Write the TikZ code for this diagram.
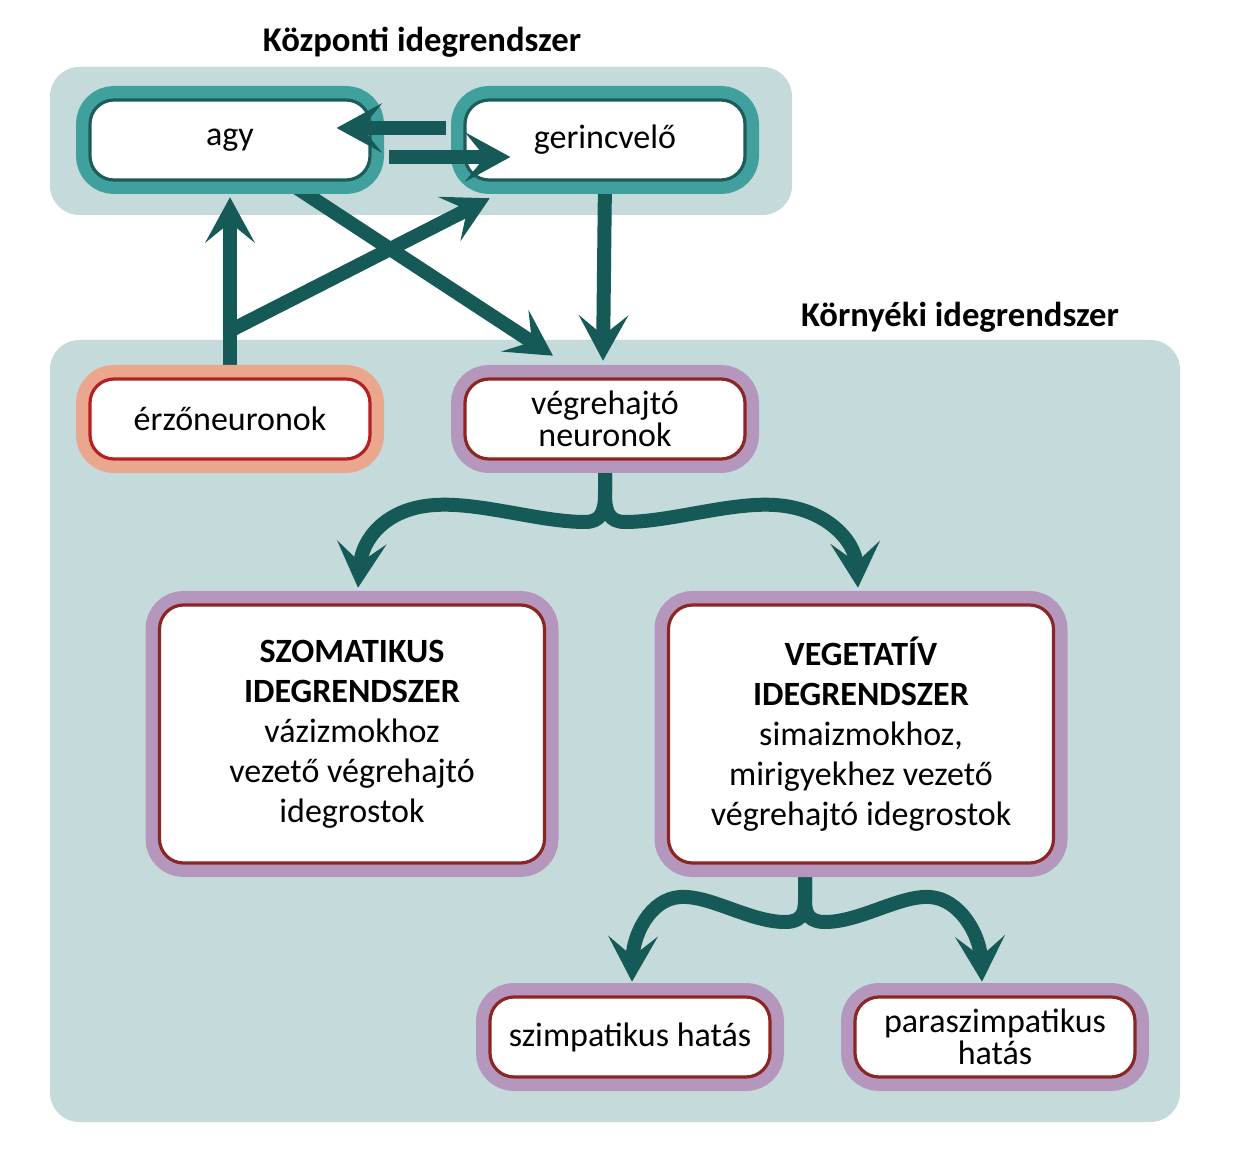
\documentclass[tikz,border=0pt]{standalone}
\usepackage{fontspec}
\setmainfont{Carlito}
\usetikzlibrary{arrows.meta,calc}
\definecolor{panel}{HTML}{C5DBDB}
\definecolor{tealframe}{HTML}{40A09D}
\definecolor{tealborder}{HTML}{1E5C5B}
\definecolor{arrowc}{HTML}{155A57}
\definecolor{salmon}{HTML}{EBA68E}
\definecolor{redborder}{HTML}{B42024}
\definecolor{purpleframe}{HTML}{B597BD}
\definecolor{darkred}{HTML}{8C2622}
\begin{document}
\begin{tikzpicture}[x=0.75pt,y=-0.75pt,
  box/.style 2 args={fill=white, draw=#2, line width=2.4pt, rounded corners=18pt,
    preaction={draw=#1, line width=21pt, rounded corners=18pt},
    inner sep=0pt, align=center},
  smallbox/.style={minimum width=210pt, minimum height=60pt,
    font=\fontsize{25.5pt}{24pt}\selectfont},
  bigbox/.style={minimum width=288.75pt, minimum height=193.5pt,
    font=\fontsize{25.5pt}{30pt}\selectfont},
  title/.style={anchor=base, font=\fontsize{26pt}{30pt}\selectfont\bfseries},
  arr/.style={draw=arrowc, line width=10.5pt, line join=round,
    -{Stealth[length=34pt,width=37pt,inset=15pt]}},
  panelbg/.style={fill=panel, rounded corners=22pt}
]
\useasboundingbox (0,0) rectangle (1240,1162);

% panels
\fill[panelbg] (50,67) rectangle (792,215);
\fill[panelbg] (50,340) rectangle (1180,1122);

\node[title] (tk) at (422,52) {Központi idegrendszer};
\node[title] (tp) at (960,327) {Környéki idegrendszer};

% coordinates for node centres
\coordinate (cagy) at (230,140);
\coordinate (cger) at (605,140);
\coordinate (cerzo) at (230,419);
\coordinate (cvegr) at (605,419);
\coordinate (cszom) at (352,734);
\coordinate (cvege) at (861,734);
\coordinate (cszimp) at (630,1037);
\coordinate (cpara) at (995,1037);

% invisible placeholders so arrows can be drawn behind the boxes
\path (cagy) node[smallbox, inner sep=0pt] (agyp) {};
\path (cger) node[smallbox, inner sep=0pt] (gerp) {};
\path (cerzo) node[smallbox, inner sep=0pt] (erzop) {};
\path (cvegr) node[smallbox, inner sep=0pt] (vegrp) {};
\path (cszom) node[bigbox, inner sep=0pt] (szomp) {};
\path (cvege) node[bigbox, inner sep=0pt] (vegep) {};
\path (cszimp) node[smallbox, inner sep=0pt] (szimpp) {};
\path (cpara) node[smallbox, inner sep=0pt] (parap) {};

% connectors behind boxes
\draw[arr] (erzop.north) -- ($(agyp.south)+(0,17)$);
\coordinate (brn) at ($(erzop.north)+(0,-48)$);
\draw[arr] (brn) -- ($(gerp.south west)+(25,18)$);
\draw[arr] ($(agyp.south)+(40,-10)$) -- ($(vegrp.north)+(-52,-23)$);
\draw[arr] (gerp.south) -- ($(vegrp.north)+(-2,-18)$);

\draw[arr] (vegrp.south) -- ++(0,35) .. controls (605,513) and (600,522) .. (585,522)
  .. controls (540,522) and (480,502) .. (435,505)
  .. controls (385,508) and (362,540) .. ($(szomp.north)+(6,-17)$);
\draw[arr] (vegrp.south) -- ++(0,35) .. controls (605,513) and (610,522) .. (625,522)
  .. controls (670,522) and (730,502) .. (775,505)
  .. controls (825,508) and (855,540) .. ($(vegep.north)+(-3,-17)$);

\coordinate (vstem) at ($(vegep.south)+(-56,0)$);
\draw[arr] (vstem) -- ++(0,37) .. controls (805,915) and (800,922) .. (785,922)
  .. controls (750,922) and (710,895) .. (680,897)
  .. controls (650,899) and (633,935) .. ($(szimpp.north)+(2,-15)$);
\draw[arr] (vstem) -- ++(0,37) .. controls (805,915) and (810,922) .. (825,922)
  .. controls (860,922) and (900,895) .. (930,897)
  .. controls (960,899) and (980,935) .. ($(parap.north)+(-13,-15)$);

% boxes
\node[box={tealframe}{tealborder}, smallbox] (agy) at (cagy) {agy};
\node[box={tealframe}{tealborder}, smallbox] (ger) at (cger) {gerincvelő};
\node[box={salmon}{redborder}, smallbox] (erzo) at (cerzo) {érzőneuronok};
\node[box={purpleframe}{darkred}, smallbox] (vegr) at (cvegr) {végrehajtó\\neuronok};
\node[box={purpleframe}{darkred}, bigbox] (szom) at (cszom)
  {\textbf{SZOMATIKUS}\\\textbf{IDEGRENDSZER}\\vázizmokhoz\\vezető végrehajtó\\idegrostok};
\node[box={purpleframe}{darkred}, bigbox] (vege) at (cvege)
  {\textbf{VEGETATÍV}\\\textbf{IDEGRENDSZER}\\simaizmokhoz,\\mirigyekhez vezető\\végrehajtó idegrostok};
\node[box={purpleframe}{darkred}, smallbox] (szimp) at (cszimp) {szimpatikus hatás};
\node[box={purpleframe}{darkred}, smallbox] (para) at (cpara) {paraszimpatikus\\hatás};

% connectors over the boxes
\draw[arr] ($(ger.west)+(-17,-12)$) -- ($(agy.east)+(-35,-12)$);
\draw[arr] ($(agy.east)+(17,17)$) -- ($(ger.west)+(47,17)$);
\end{tikzpicture}
\end{document}
